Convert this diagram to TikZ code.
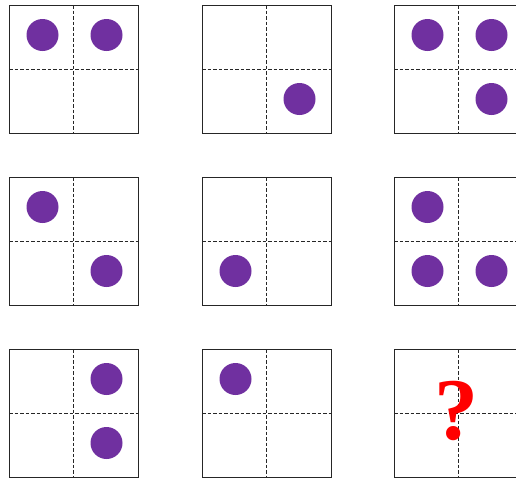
\documentclass[tikz,border=0pt]{standalone}
\usepackage{fontspec}
\setmainfont{Liberation Serif}
\usetikzlibrary{positioning}
\definecolor{dotpurple}{RGB}{112,48,160}
\tikzset{
  cell/.style={draw=black!85,line width=1pt,minimum width=129pt,minimum height=128pt,inner sep=0pt,outer sep=0pt},
  split/.style={dash pattern=on 3.5pt off 2pt,line width=0.8pt,black!85},
  dot/.style={circle,fill=dotpurple,minimum size=32pt,inner sep=0pt},
  qmark/.style={text=red,font=\fontsize{88}{88}\selectfont\bfseries,inner sep=0pt},
}
\begin{document}
\begin{tikzpicture}[x=1pt,y=-1pt]
  \clip (0,0) rectangle (516,477);
  % 3x3 grid of cells, each cut into quadrants
  \foreach \r/\y in {1/69,2/241,3/413}{
    \foreach \c/\x in {1/73.5,2/266.5,3/458.5}{
      \node[cell] (c\r\c) at (\x,\y) {};
      \draw[split] (c\r\c.north) -- (c\r\c.south);
      \draw[split] (c\r\c.west) -- (c\r\c.east);
    }
  }
  % dots: cell / quadrant / offset from cell centre
  \foreach \cl/\q/\dx/\dy in {11/tl/-31/-34,11/tr/33/-34,12/br/33/30,
      13/tl/-31/-34,13/tr/33/-34,13/br/33/30,
      21/tl/-31/-34,21/br/33/30,22/bl/-31/30,
      23/tl/-31/-34,23/bl/-31/30,23/br/33/30,
      31/tr/33/-34,31/br/33/30,32/tl/-31/-34}{
    \node[dot] (d\cl\q) at ([shift={(\dx,\dy)}]c\cl) {};
  }
  \node[qmark] (ask) at ([shift={(-2,-2)}]c33) {?};
\end{tikzpicture}
\end{document}
